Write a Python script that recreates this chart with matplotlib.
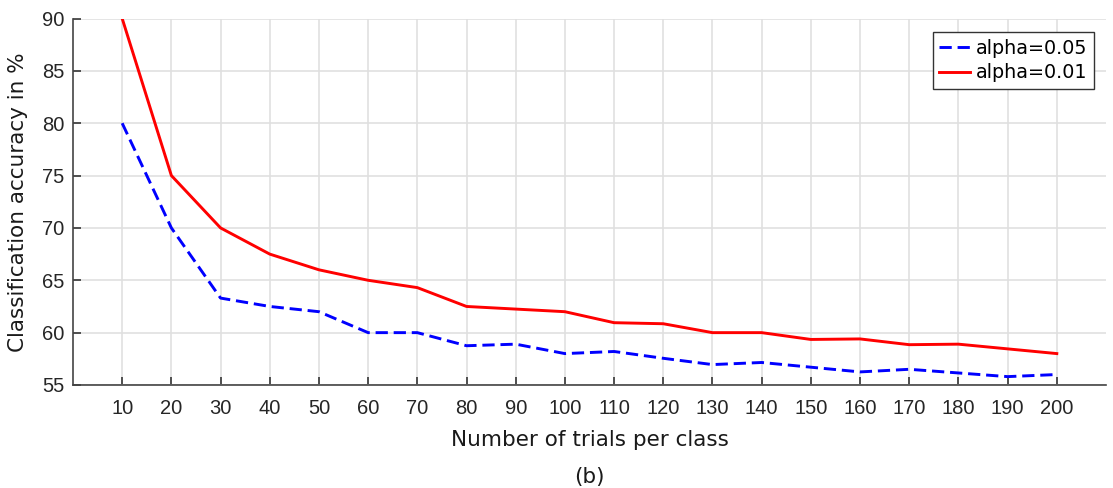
import matplotlib
matplotlib.use("Agg")
import matplotlib.pyplot as plt

trials = [10, 20, 30, 40, 50, 60, 70, 80, 90, 100, 110, 120, 130, 140, 150, 160, 170, 180, 190, 200]
acc_005 = [80.0, 70.0, 63.3, 62.5, 62.0, 60.0, 60.0, 58.75, 58.9, 58.0, 58.2, 57.55, 56.95, 57.15, 56.7, 56.25, 56.5, 56.15, 55.8, 56.0]
acc_001 = [90.0, 75.0, 70.0, 67.5, 66.0, 65.0, 64.3, 62.5, 62.25, 62.0, 60.95, 60.85, 60.0, 60.0, 59.35, 59.4, 58.85, 58.9, 58.45, 58.0]
labels = ["alpha=0.05", "alpha=0.01"]

fig = plt.figure(figsize=(11.13, 4.88), dpi=100)
ax = fig.add_axes([73/1113, 1-385/488, (1106-73)/1113, (385-18.5)/488])

ax.plot(trials, acc_005, color="#0000ff", linestyle=(0, (4.2, 2.0)), linewidth=2.1, label=labels[0])
ax.plot(trials, acc_001, color="#ff0000", linestyle="-", linewidth=2.1, label=labels[1])

ax.set_xlim(0, 210)
ax.set_ylim(55, 90)
ax.set_xticks(trials)
ax.set_yticks(range(55, 91, 5))
ax.grid(True, color="#e0e0e0", linewidth=1.2)
ax.set_axisbelow(True)
for s in ["top", "right"]:
    ax.spines[s].set_visible(False)
for s in ["left", "bottom"]:
    ax.spines[s].set_color("#444444")
    ax.spines[s].set_linewidth(1.2)
ax.tick_params(direction="in", length=6, colors="#262626", width=1.1,
               labelsize=14.5, labelfontfamily="Liberation Sans")
ax.tick_params(axis="x", pad=10)
ax.tick_params(axis="y", pad=6)
ax.set_ylabel("Classification accuracy in %", fontsize=15.5, color="#1a1a1a", labelpad=10)
ax.set_xlabel("Number of trials per class", fontsize=15.5, color="#1a1a1a", labelpad=9)
fig.text((73+1106)/2/1113, 1-477/488, "(b)", ha="center", va="center", fontsize=15.5, color="#1a1a1a")

leg = ax.legend(loc="upper right", fontsize=13.8, fancybox=False, framealpha=1,
                edgecolor="#333333", handlelength=1.6, handletextpad=0.3,
                borderpad=0.35, labelspacing=0.3, borderaxespad=0.0,
                bbox_to_anchor=(1 - 12/1033, 1 - 13.5/366.5))
leg.get_frame().set_linewidth(1.0)

fig.savefig("out.png", dpi=100)
